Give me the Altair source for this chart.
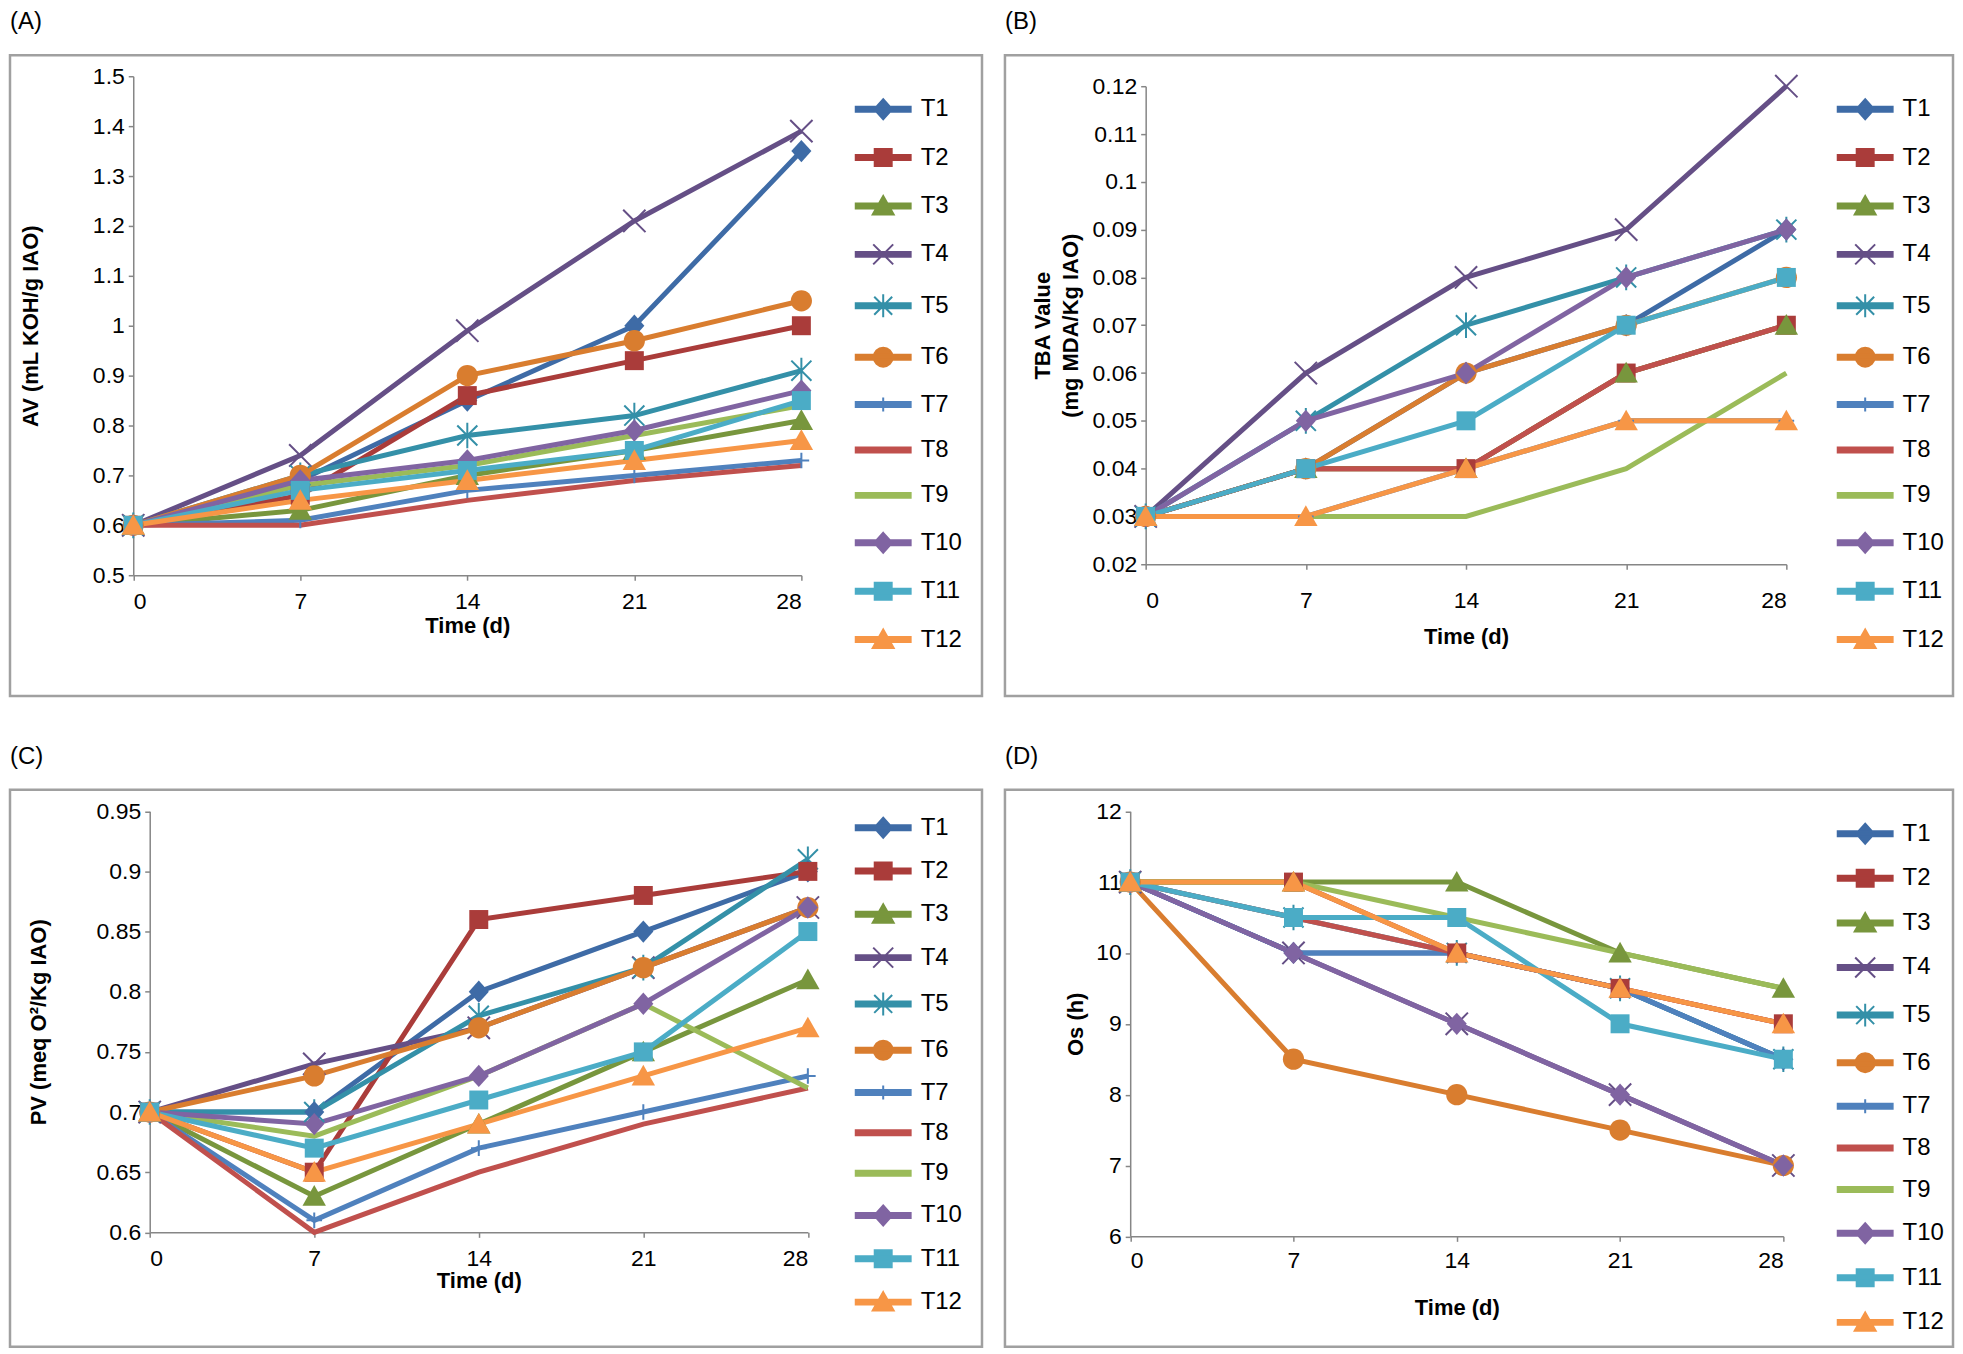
import altair as alt
import pandas as pd

days = [0, 7, 14, 21, 28]
series = ["T1", "T2", "T3", "T4", "T5", "T6", "T7", "T8", "T9", "T10", "T11", "T12"]
colors = ["#3E6BA6", "#AA3C3A", "#78963D", "#654F86", "#3490A8", "#D97D2F",
          "#4F81BD", "#C0504D", "#9BBB59", "#8064A2", "#4BACC6", "#F79646"]

# (A) acid value
av = {
    "T1": [0.60, 0.69, 0.85, 1.00, 1.35],
    "T2": [0.60, 0.66, 0.86, 0.93, 1.00],
    "T3": [0.60, 0.63, 0.70, 0.75, 0.81],
    "T4": [0.60, 0.74, 0.99, 1.21, 1.39],
    "T5": [0.60, 0.70, 0.78, 0.82, 0.91],
    "T6": [0.60, 0.70, 0.90, 0.97, 1.05],
    "T7": [0.60, 0.61, 0.67, 0.70, 0.73],
    "T8": [0.60, 0.60, 0.65, 0.69, 0.72],
    "T9": [0.60, 0.68, 0.72, 0.78, 0.84],
    "T10": [0.60, 0.69, 0.73, 0.79, 0.87],
    "T11": [0.60, 0.67, 0.71, 0.75, 0.85],
    "T12": [0.60, 0.65, 0.69, 0.73, 0.77],
}
# (B) TBA value
tba = {
    "T1": [0.03, 0.04, 0.06, 0.07, 0.09],
    "T2": [0.03, 0.04, 0.04, 0.06, 0.07],
    "T3": [0.03, 0.04, 0.04, 0.06, 0.07],
    "T4": [0.03, 0.06, 0.08, 0.09, 0.12],
    "T5": [0.03, 0.05, 0.07, 0.08, 0.09],
    "T6": [0.03, 0.04, 0.06, 0.07, 0.08],
    "T7": [0.03, 0.03, 0.04, 0.05, 0.05],
    "T8": [0.03, 0.04, 0.04, 0.06, 0.07],
    "T9": [0.03, 0.03, 0.03, 0.04, 0.06],
    "T10": [0.03, 0.05, 0.06, 0.08, 0.09],
    "T11": [0.03, 0.04, 0.05, 0.07, 0.08],
    "T12": [0.03, 0.03, 0.04, 0.05, 0.05],
}
# (C) peroxide value
pv = {
    "T1": [0.70, 0.70, 0.80, 0.85, 0.90],
    "T2": [0.70, 0.65, 0.86, 0.88, 0.90],
    "T3": [0.70, 0.63, 0.69, 0.75, 0.81],
    "T4": [0.70, 0.74, 0.77, 0.82, 0.87],
    "T5": [0.70, 0.70, 0.78, 0.82, 0.91],
    "T6": [0.70, 0.73, 0.77, 0.82, 0.87],
    "T7": [0.70, 0.61, 0.67, 0.70, 0.73],
    "T8": [0.70, 0.60, 0.65, 0.69, 0.72],
    "T9": [0.70, 0.68, 0.73, 0.79, 0.72],
    "T10": [0.70, 0.69, 0.73, 0.79, 0.87],
    "T11": [0.70, 0.67, 0.71, 0.75, 0.85],
    "T12": [0.70, 0.65, 0.69, 0.73, 0.77],
}
# (D) oxidative stability
os_h = {
    "T1": [11, 10, 10, 9.5, 8.5],
    "T2": [11, 11, 10, 9.5, 9],
    "T3": [11, 11, 11, 10, 9.5],
    "T4": [11, 10, 9, 8, 7],
    "T5": [11, 10.5, 10, 9.5, 8.5],
    "T6": [11, 8.5, 8, 7.5, 7],
    "T7": [11, 10, 10, 9.5, 8.5],
    "T8": [11, 10.5, 10, 9.5, 9],
    "T9": [11, 11, 10.5, 10, 9.5],
    "T10": [11, 10, 9, 8, 7],
    "T11": [11, 10.5, 10.5, 9, 8.5],
    "T12": [11, 11, 10, 9.5, 9],
}

FONT = "Liberation Sans"

# marker shapes (plot)
P_DIAMOND = "M0,-1L0.9,0L0,1L-0.9,0Z"
P_SQUARE = "M-0.85,-0.85L0.85,-0.85L0.85,0.85L-0.85,0.85Z"
P_TRI = "M0,-1L1.05,0.85L-1.05,0.85Z"
P_CIRCLE = "M0.95,0A0.95,0.95,0,1,1,-0.95,0A0.95,0.95,0,1,1,0.95,0Z"
P_X = "M-1,-1L1,1M-1,1L1,-1"
P_STAR = "M-0.9,-0.9L0.9,0.9M-0.9,0.9L0.9,-0.9M0,-1.15L0,1.15"
P_PLUS = "M-0.7,0L0.7,0M0,-0.7L0,0.7"

filled_series = ["T1", "T2", "T3", "T6", "T10", "T11", "T12"]
filled_paths = [P_DIAMOND, P_SQUARE, P_TRI, P_CIRCLE, P_DIAMOND, P_SQUARE, P_TRI]
stroked_series = ["T4", "T5", "T7"]
stroked_paths = [P_X, P_STAR, P_PLUS]

# legend symbols: line + marker
LINE = "M-4.5,-0.25L1,-0.25L1,0.25L-4.5,0.25Z"
C = -1.75
def mk(p):
    return LINE + p
L_DIAMOND = f"M{C},-1L{C+0.9},0L{C},1L{C-0.9},0Z"
L_SQUARE = f"M{C-0.85},-0.85L{C+0.85},-0.85L{C+0.85},0.85L{C-0.85},0.85Z"
L_TRI = f"M{C},-1L{C+1.05},0.85L{C-1.05},0.85Z"
L_CIRCLE = f"M{C+0.95},0A0.95,0.95,0,1,1,{C-0.95},0A0.95,0.95,0,1,1,{C+0.95},0Z"
L_X = f"M{C-1},-1L{C+1},1M{C-1},1L{C+1},-1"
L_STAR = f"M{C-0.9},-0.9L{C+0.9},0.9M{C-0.9},0.9L{C+0.9},-0.9M{C},-1.15L{C},1.15"
L_PLUS = f"M{C},-0.7L{C},0.7"
legend_paths = [mk(L_DIAMOND), mk(L_SQUARE), mk(L_TRI), mk(L_X), mk(L_STAR), mk(L_CIRCLE),
                mk(L_PLUS), LINE, LINE, mk(L_DIAMOND), mk(L_SQUARE), mk(L_TRI)]


def long_df(values):
    rows = []
    for s in series:
        for d, v in zip(days, values[s]):
            rows.append({"series": s, "day": d, "value": v})
    return pd.DataFrame(rows)


def panel(label, values, ytitle, ydomain, yticks, BW, BH, L, W, T, H,
          leg_x, leg_y, row_pad, ytitle_pad, xlab_pad, xtitle_pad):
    df = long_df(values)
    B = BH - T - H
    base = alt.Chart(df).encode(
        x=alt.X("day:Q", scale=alt.Scale(domain=[0, 28], range=[L, L + W], nice=False, zero=False),
                axis=alt.Axis(values=days, title="Time (d)", labelPadding=xlab_pad,
                              titlePadding=xtitle_pad, offset=-B)),
        y=alt.Y("value:Q", scale=alt.Scale(domain=ydomain, range=[T + H, T], nice=False, zero=False),
                axis=alt.Axis(values=yticks, format=".2~f", title=ytitle,
                              titlePadding=ytitle_pad, offset=-L, titleLineHeight=28)),
    )
    lines = base.mark_line(strokeWidth=5).encode(
        stroke=alt.Stroke("series:N", scale=alt.Scale(domain=series, range=colors), legend=None)
    )
    fpts = base.transform_filter(
        alt.FieldOneOfPredicate(field="series", oneOf=filled_series)
    ).mark_point(filled=True, size=500, opacity=1, strokeWidth=0).encode(
        shape=alt.Shape("series:N", scale=alt.Scale(domain=filled_series, range=filled_paths), legend=None),
        fill=alt.Fill("series:N", scale=alt.Scale(domain=series, range=colors), legend=None),
    )
    spts = base.transform_filter(
        alt.FieldOneOfPredicate(field="series", oneOf=stroked_series)
    ).mark_point(filled=False, size=500, opacity=1, strokeWidth=2).encode(
        shape=alt.Shape("series:N", scale=alt.Scale(domain=stroked_series, range=stroked_paths), legend=None),
        stroke=alt.Stroke("series:N", scale=alt.Scale(domain=series, range=colors), legend=None),
    )
    leg = alt.Legend(orient="none", legendX=leg_x, legendY=leg_y, title=None,
                     labelFontSize=24, labelFont=FONT, labelColor="black",
                     symbolSize=400, symbolStrokeWidth=2, symbolOpacity=1,
                     rowPadding=row_pad, labelOffset=8, padding=0, labelLimit=200)
    dummy = base.mark_point(filled=True, opacity=0, size=400).encode(
        shape=alt.Shape("series:N", scale=alt.Scale(domain=series, range=legend_paths), legend=leg),
        fill=alt.Fill("series:N", scale=alt.Scale(domain=series, range=colors), legend=leg),
        stroke=alt.Stroke("series:N", scale=alt.Scale(domain=series, range=colors), legend=leg),
    )
    box = alt.Chart(pd.DataFrame({"k": [0]})).mark_rect(
        fill="white", fillOpacity=0, stroke="#a0a0a0", strokeWidth=2.5
    ).encode(x=alt.value(0), x2=alt.value(BW), y=alt.value(0), y2=alt.value(BH))
    return alt.layer(box, lines, spts, fpts, dummy).resolve_scale(
        shape="independent", fill="independent", stroke="independent"
    ).properties(
        width=BW, height=BH,
        title=alt.TitleParams(label, anchor="start", frame="group", fontSize=24, font=FONT,
                              fontWeight="normal", color="black", offset=20),
    )


def ticks(lo, hi, step, n):
    return [round(lo + i * step, 4) for i in range(n)]


#            BW   BH   L      W      T     H
pA = panel("(A)", av, "AV (mL KOH/g IAO)", [0.5, 1.5], ticks(0.5, 1.5, 0.1, 11),
           974, 642, 123.5, 669.5, 21, 500, 880.5, 42, 21.5, 50, 10, 2)
pB = panel("(B)", tba, ["TBA Value", "(mg MDA/Kg IAO)"], [0.02, 0.12], ticks(0.02, 0.12, 0.01, 11),
           950, 642, 141, 642, 31, 479, 867.5, 42, 21.5, 10, 20, 14)
pC = panel("(C)", pv, "PV (meq O²/Kg IAO)", [0.6, 0.95], ticks(0.6, 0.95, 0.05, 8),
           974, 558, 140, 659.5, 21.5, 422, 880.5, 26, 16.4, 46, 10, 0)
pD = panel("(D)", os_h, "Os (h)", [6, 12], ticks(6, 12, 1, 7),
           950, 558, 125.5, 654.5, 21.5, 426, 867.5, 32, 17.7, 8, 8, 25)

chart = alt.concat(
    pA, pB, pC, pD, columns=2,
    spacing={"row": 94, "column": 23}, bounds="flush", align="each",
).properties(padding=0).configure_view(stroke=None).configure_axis(
    grid=False, domainColor="#868686", tickColor="#868686", domainWidth=1.5, tickWidth=1.5,
    tickSize=5, labelPadding=4, labelFont=FONT, labelFontSize=23, labelColor="black",
    titleFont=FONT, titleFontSize=22, titleFontWeight="bold", titleColor="black",
)

chart.save("out.html", embed_options={"renderer": "svg", "actions": False})
